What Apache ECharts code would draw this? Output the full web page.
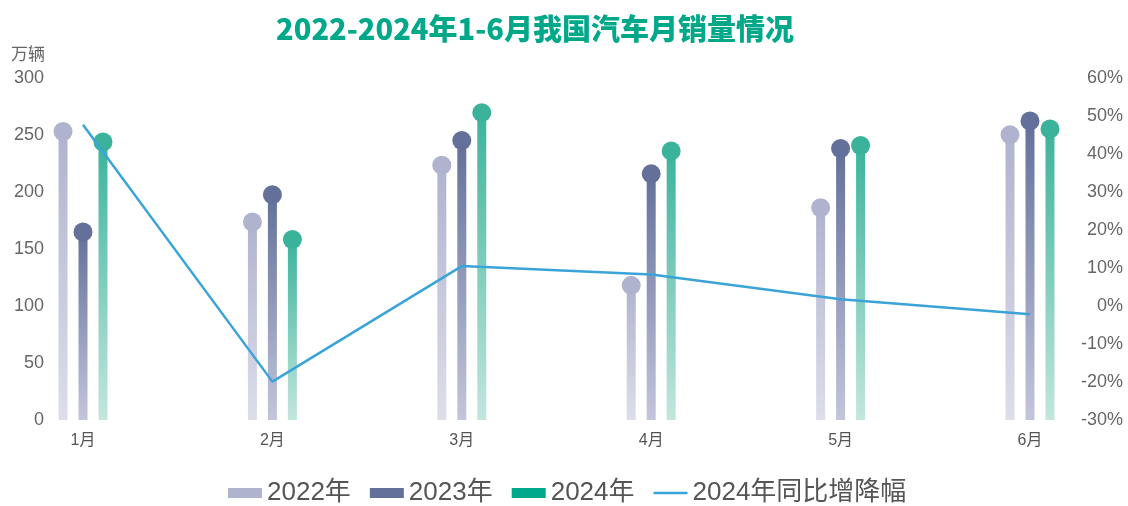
<!DOCTYPE html>
<html>
<head>
<meta charset="utf-8">
<script src="https://cdn.jsdelivr.net/npm/echarts@6/dist/echarts.min.js"></script>
<style>
  html, body { margin: 0; padding: 0; background: #fff; }
  #main { width: 1128px; height: 506px; }
</style>
</head>
<body>
<div id="main"></div>
<script>
const months = ['1月', '2月', '3月', '4月', '5月', '6月']
const sales2022 = [253.1, 173.7, 223.4, 118.1, 186.2, 250.2]
const sales2023 = [164.9, 197.6, 245.1, 215.9, 238.2, 262.2]
const sales2024 = [243.9, 158.4, 269.6, 236.0, 240.8, 255.2]
const yoy2024 = [47.7, -19.9, 10.5, 8.3, 1.8, -2.2]

const font = '"Noto Sans CJK SC", "Noto Sans", sans-serif'
const numFont = '"Liberation Sans", "Noto Sans CJK SC", sans-serif'

// 每年一组配色：柱顶色、柱底色、圆点色、图例色
const palettes = {
  '2022年': { top: '#b0b3ce', bottom: '#dddeea', dot: '#b0b3ce', legend: '#b0b3ce' },
  '2023年': { top: '#62709a', bottom: '#c3c5db', dot: '#62709a', legend: '#62709a' },
  '2024年': { top: '#3bb39b', bottom: '#c3e6dd', dot: '#3bb39b', legend: '#00a88a' },
}

const barSeries = (name, data) => {
  const p = palettes[name]
  return {
    name,
    type: 'bar',
    data,
    barWidth: 9,
    barGap: '122%',
    clip: false,
    z: 2,
    itemStyle: {
      color: new echarts.graphic.LinearGradient(0, 0, 0, 1, [
        { offset: 0, color: p.top },
        { offset: 1, color: p.bottom },
      ]),
    },
  }
}

const dotSeries = (name, data) => {
  const p = palettes[name]
  return {
    name,
    type: 'pictorialBar',
    data,
    symbol: 'circle',
    symbolSize: [19, 19],
    symbolPosition: 'end',
    symbolOffset: [0, '-50%'],
    barWidth: 9,
    barGap: '122%',
    clip: false,
    z: 3,
    itemStyle: { color: p.dot },
  }
}

const chart = echarts.init(document.getElementById('main'))

chart.setOption({
  animation: false,
  title: {
    text: '2022-2024年1-6月我国汽车月销量情况',
    left: 530,
    textAlign: 'center',
    top: 9,
    textStyle: { color: '#00a88a', fontSize: 29, fontWeight: 900, fontFamily: font },
  },
  legend: {
    top: 480,
    left: 228,
    padding: 0,
    itemWidth: 34,
    itemHeight: 10,
    itemGap: 19,
    textStyle: { color: '#555', fontSize: 26, fontFamily: numFont },
    data: [
      { name: '2022年', icon: 'rect', itemStyle: { color: palettes['2022年'].legend } },
      { name: '2023年', icon: 'rect', itemStyle: { color: palettes['2023年'].legend } },
      { name: '2024年', icon: 'rect', itemStyle: { color: palettes['2024年'].legend } },
      { name: '2024年同比增降幅', icon: 'path://M0,0 L34,0 L34,2.5 L0,2.5 Z', itemStyle: { color: '#3aa3d8' } },
    ],
  },
  grid: { left: 83, right: 98, top: 78, bottom: 86 },
  xAxis: {
    type: 'category',
    data: months,
    boundaryGap: false,
    axisLine: { show: false },
    axisTick: { show: false },
    axisLabel: { color: '#555', fontSize: 16, margin: 13, fontFamily: numFont },
  },
  yAxis: [
    {
      type: 'value',
      min: 0,
      max: 300,
      interval: 50,
      name: '万辆',
      nameGap: 16,
      nameTextStyle: { color: '#666', fontSize: 17, align: 'right', padding: [0, 38, 0, 0], fontFamily: font },
      splitLine: { show: false },
      axisLine: { show: false },
      axisTick: { show: false },
      axisLabel: { color: '#666', fontSize: 18, margin: 39, fontFamily: numFont },
    },
    {
      type: 'value',
      min: -30,
      max: 60,
      interval: 10,
      position: 'right',
      splitLine: { show: false },
      axisLine: { show: false },
      axisTick: { show: false },
      axisLabel: {
        color: '#666', fontSize: 18, margin: 93, align: 'right', fontFamily: numFont,
        formatter: '{value}%',
      },
    },
  ],
  series: [
    barSeries('2022年', sales2022),
    barSeries('2023年', sales2023),
    barSeries('2024年', sales2024),
    dotSeries('2022年', sales2022),
    dotSeries('2023年', sales2023),
    dotSeries('2024年', sales2024),
    {
      name: '2024年同比增降幅',
      type: 'line',
      yAxisIndex: 1,
      data: yoy2024,
      symbol: 'none',
      z: 4,
      lineStyle: { color: '#3aa3d8', width: 2.5 },
      itemStyle: { color: '#3aa3d8' },
    },
  ],
})
</script>
</body>
</html>
